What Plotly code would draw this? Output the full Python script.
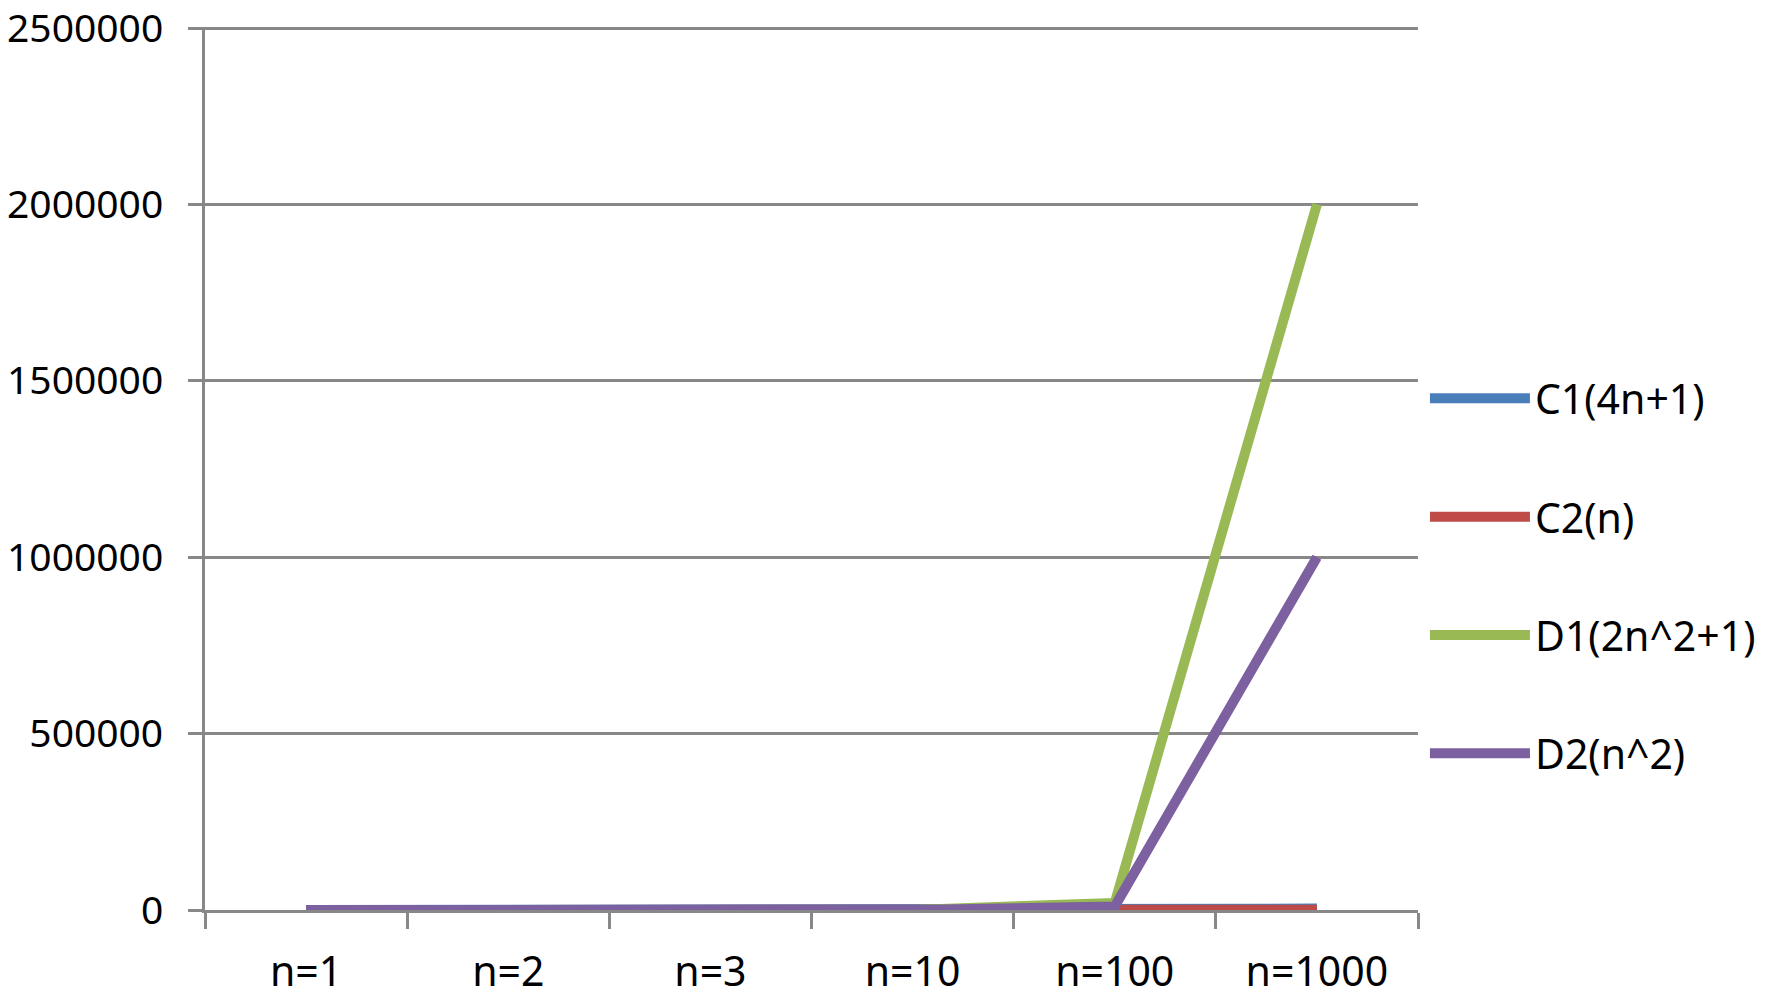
import plotly.graph_objects as go

# categories and series values
categories = ["n=1", "n=2", "n=3", "n=10", "n=100", "n=1000"]
c1_values = [5, 9, 13, 41, 401, 4001]              # 4n+1
c2_values = [1, 2, 3, 10, 100, 1000]               # n
d1_values = [3, 9, 19, 201, 20001, 2000001]        # 2n^2+1
d2_values = [1, 4, 9, 100, 10000, 1000000]         # n^2
series_names = ["C1(4n+1)", "C2(n)", "D1(2n^2+1)", "D2(n^2)"]
y_ticks = [0, 500000, 1000000, 1500000, 2000000, 2500000]

colors = ['#4A7EBB', '#BE4B48', '#98B954', '#7D60A0']   # Excel 2007 palette
axisColor = '#888888'

fig = go.Figure()
for name, vals, col in zip(series_names,
                           [c1_values, c2_values, d1_values, d2_values],
                           colors):
    fig.add_trace(go.Scatter(
        x=categories, y=vals, name=name, mode='lines',
        line=dict(color=col, width=10),
        legendgroup=name
    ))

# page body has an 8px margin, so the figure is 8px smaller than the window
fig.update_layout(
    width=1758, height=998,
    margin=dict(l=197, r=348, t=19, b=96),
    paper_bgcolor='white', plot_bgcolor='white',
    font=dict(family='Noto Sans', size=41, color='black'),
    legend=dict(
        xref='container', x=0.806, y=0.617, xanchor='left', yanchor='top',
        tracegroupgap=62, itemwidth=100,
        font=dict(size=41)
    ),
    showlegend=True
)

fig.update_xaxes(
    type='category', range=[-0.5, 5.5], automargin=False,
    tickson='boundaries', ticks='outside', ticklen=16, tickwidth=3,
    tickcolor=axisColor, showline=True, linecolor=axisColor, linewidth=3,
    showgrid=False, ticklabelstandoff=24
)
fig.update_yaxes(
    range=[0, 2503000], tickvals=y_ticks, tickformat='d', automargin=False,
    ticks='outside', ticklen=14, tickwidth=3, tickcolor=axisColor,
    showline=True, linecolor=axisColor, linewidth=3,
    showgrid=True, gridcolor=axisColor, gridwidth=3,
    zeroline=False, ticklabelstandoff=17, ticklabeloverflow='allow',
    tickfont=dict(size=39)
)

fig.write_html("out.html")
